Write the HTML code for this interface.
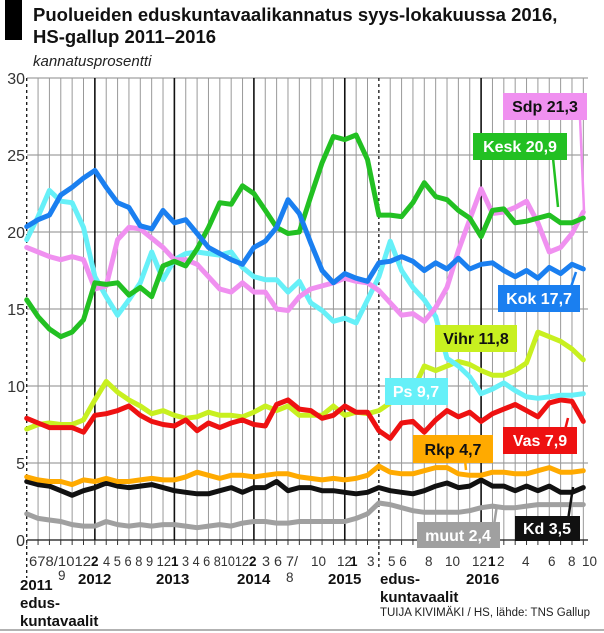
<!DOCTYPE html>
<html><head><meta charset="utf-8">
<style>
html,body{margin:0;padding:0;background:#fff;}
svg{display:block;font-family:"Liberation Sans",sans-serif;}
</style></head>
<body>
<svg id="s" width="604" height="633" viewBox="0 0 604 633" xmlns="http://www.w3.org/2000/svg">
<rect x="0" y="0" width="604" height="633" fill="#fff"/>
<rect x="5" y="0" width="17" height="40" fill="#000"/>
<text x="33" y="21" font-size="18.5" font-weight="bold" fill="#111">Puolueiden eduskuntavaalikannatus syys-lokakuussa 2016,</text>
<text x="33" y="43" font-size="18.5" font-weight="bold" fill="#111">HS-gallup 2011–2016</text>
<text x="33" y="66" font-size="15" font-style="italic" fill="#222">kannatusprosentti</text>
<g id="grid"></g>
<g font-size="16" fill="#333" text-anchor="end">
<text x="25" y="84">30</text><text x="25" y="161">25</text><text x="25" y="238">20</text>
<text x="25" y="315">15</text><text x="25" y="392">10</text><text x="25" y="469">5</text><text x="25" y="546">0</text>
</g>
<g id="lines" fill="none" stroke-width="5" stroke-linejoin="round" stroke-linecap="round"></g>
<g font-size="16" font-weight="bold">
<line x1="580" y1="118" x2="584" y2="210" stroke="#f090f0" stroke-width="2.5"/>
<rect x="503" y="93" width="84" height="27" fill="#f090f0"/>
<text x="545" y="112" text-anchor="middle" fill="#111">Sdp 21,3</text>
<line x1="553" y1="158" x2="558" y2="207" stroke="#22c022" stroke-width="2.5"/>
<rect x="473" y="133" width="94" height="27" fill="#22c022"/>
<text x="520" y="152" text-anchor="middle" fill="#fff">Kesk 20,9</text>
<line x1="570" y1="290" x2="576" y2="272" stroke="#1a7ff0" stroke-width="2.5"/>
<rect x="498" y="285" width="82" height="27" fill="#1a7ff0"/>
<text x="539" y="304" text-anchor="middle" fill="#fff">Kok 17,7</text>
<rect x="435" y="325" width="82" height="27" fill="#c8f020"/>
<text x="476" y="344" text-anchor="middle" fill="#111">Vihr 11,8</text>
<rect x="385" y="378" width="63" height="27" fill="#66f0f8"/>
<text x="416" y="397" text-anchor="middle" fill="#fff">Ps 9,7</text>
<line x1="565" y1="430" x2="568" y2="418" stroke="#ee1111" stroke-width="2.5"/>
<rect x="503" y="427" width="74" height="27" fill="#ee1111"/>
<text x="540" y="446" text-anchor="middle" fill="#fff">Vas 7,9</text>
<line x1="465" y1="460" x2="466" y2="470" stroke="#ffaa00" stroke-width="2.5"/>
<rect x="413" y="435" width="80" height="28" fill="#ffaa00"/>
<text x="453" y="455" text-anchor="middle" fill="#111">Rkp 4,7</text>
<line x1="568" y1="520" x2="573" y2="487" stroke="#111" stroke-width="2.5"/>
<rect x="515" y="516" width="65" height="25" fill="#111"/>
<text x="547" y="534" text-anchor="middle" fill="#fff">Kd 3,5</text>
<line x1="494" y1="525" x2="497" y2="505" stroke="#a0a0a0" stroke-width="2.5"/>
<rect x="417" y="522" width="83" height="26" fill="#a0a0a0"/>
<text x="458" y="541" text-anchor="middle" fill="#fff">muut 2,4</text>
</g>
<g font-size="13.5" fill="#333">
<text x="29" y="566" textLength="62" lengthAdjust="spacingAndGlyphs">678/1012</text>
<text x="91" y="566" font-weight="bold" fill="#111">2</text>
<text x="103" y="566" textLength="68" lengthAdjust="spacingAndGlyphs">4 5 6 8 9 12</text>
<text x="171" y="566" font-weight="bold" fill="#111">1</text>
<text x="182" y="566" textLength="67" lengthAdjust="spacingAndGlyphs">3 4 6 81012</text>
<text x="249" y="566" font-weight="bold" fill="#111">2</text>
<text x="262" y="566" textLength="36" lengthAdjust="spacingAndGlyphs">3 6 7/</text>
<text x="58" y="580">9</text>
<text x="286" y="582">8</text>
<text x="311" y="566">10</text>
<text x="337" y="566">12</text>
<text x="350" y="566" font-weight="bold" fill="#111">1</text>
<text x="367" y="566">3</text>
<text x="388" y="566">5 6</text>
<text x="425" y="566">8</text>
<text x="445" y="566">10</text>
<text x="472" y="566">12</text>
<text x="488" y="566" font-weight="bold" fill="#111">1</text>
<text x="497" y="566">2</text>
<text x="522" y="566">4</text>
<text x="548" y="566">6</text>
<text x="568" y="566">8</text>
<text x="582" y="566">10</text>
</g>
<g font-size="15" font-weight="bold" fill="#111">
<text x="20" y="590">2011</text>
<text x="20" y="608">edus-</text>
<text x="20" y="626">kuntavaalit</text>
<text x="78" y="584">2012</text>
<text x="156" y="584">2013</text>
<text x="237" y="584">2014</text>
<text x="328" y="584">2015</text>
<text x="380" y="584">edus-</text>
<text x="380" y="602">kuntavaalit</text>
<text x="466" y="584">2016</text>
</g>
<text x="590" y="616" font-size="11.5" text-anchor="end" fill="#222">TUIJA KIVIMÄKI / HS, lähde: TNS Gallup</text>
<line x1="0" y1="630" x2="604" y2="630" stroke="#999" stroke-width="1.5"/>
</svg>
<script>
var NS="http://www.w3.org/2000/svg";
function el(p,t,a){var e=document.createElementNS(NS,t);for(var k in a)e.setAttribute(k,a[k]);p.appendChild(e);return e;}
var X0=26.7,DX=11.36;
function X(i){return X0+DX*i;}
function Y(v){return 540-15.4*v;}
var g=document.getElementById('grid');
for(var v=5;v<=30;v+=5) el(g,'line',{x1:27,x2:588,y1:Y(v),y2:Y(v),stroke:'#888','stroke-width':1});
var black=[6,13,20,28,40];
for(var i=1;i<=49;i++){
  if(i==31) continue;
  var b=black.indexOf(i)>=0;
  el(g,'line',{x1:X(i),x2:X(i),y1:Y(30),y2:540,stroke:b?'#111':'#999','stroke-width':b?1.6:1});
}
el(g,'line',{x1:X(0),x2:X(0),y1:Y(30),y2:578,stroke:'#111','stroke-width':1.3,'stroke-dasharray':'3,3'});
el(g,'line',{x1:X(31),x2:X(31),y1:Y(30),y2:568,stroke:'#111','stroke-width':1.3,'stroke-dasharray':'3,3'});
el(g,'line',{x1:27,x2:588,y1:540,y2:540,stroke:'#111','stroke-width':1.3});
for(var i=0;i<=49;i++){ el(g,'line',{x1:X(i),x2:X(i),y1:540,y2:545,stroke:'#333','stroke-width':1}); }
var S=[
['#a0a0a0',[1.7,1.4,1.3,1.2,1.0,0.9,0.9,1.2,1.0,0.9,1.0,0.9,1.0,1.0,0.9,0.8,0.9,1.0,0.9,1.1,1.2,1.2,1.1,1.1,1.2,1.2,1.2,1.2,1.2,1.4,1.7,2.4,2.3,2.1,1.9,1.8,1.8,1.8,1.8,1.9,2.1,2.2,2.1,2.1,2.2,2.3,2.3,2.3,2.3,2.3]],
['#111',[3.8,3.6,3.5,3.2,2.9,3.2,3.4,3.7,3.5,3.4,3.5,3.6,3.4,3.2,3.1,3.0,3.0,3.2,3.4,3.1,3.4,3.4,3.8,3.2,3.4,3.4,3.2,3.2,3.1,3.0,3.1,3.4,3.2,3.1,3.0,3.2,3.5,3.7,3.4,3.5,3.9,3.5,3.5,3.2,3.5,3.2,3.5,3.1,3.1,3.4]],
['#ffaa00',[4.1,3.9,3.8,3.8,3.6,3.9,3.8,4.0,3.8,3.8,3.9,4.0,3.9,3.9,4.1,4.4,4.2,4.0,4.2,4.2,4.1,4.2,4.3,4.3,4.1,4.0,3.9,4.0,3.9,4.0,4.2,4.8,4.4,4.3,4.3,4.5,4.7,4.7,4.3,4.2,4.2,4.4,4.4,4.3,4.3,4.5,4.7,4.4,4.4,4.5]],
['#c8f020',[7.2,7.5,7.6,7.5,7.5,7.8,9.1,10.3,9.6,9.1,8.7,8.2,8.4,8.1,7.9,8.0,8.3,8.1,8.1,8.0,8.3,8.7,8.4,8.7,8.1,8.1,8.1,8.7,8.1,8.3,8.2,8.4,8.9,9.1,9.7,11.3,11.0,11.3,11.6,11.4,11.0,10.7,10.7,11.0,11.5,13.5,13.2,12.9,12.4,11.7]],
['#ee1111',[7.9,7.6,7.3,7.3,7.3,7.0,8.1,8.2,8.4,8.7,8.1,7.7,7.5,7.4,7.8,7.1,7.6,7.3,7.6,7.8,7.5,7.4,8.8,9.1,8.5,8.4,7.9,8.1,8.7,8.3,8.3,7.1,6.6,7.6,7.7,7.0,7.8,8.4,8.0,8.3,7.7,8.2,8.5,8.8,8.4,8.0,8.9,9.1,9.0,7.7]],
['#66f0f8',[19.5,21.0,22.7,22.0,21.9,20.3,17.1,15.8,14.6,15.6,16.7,18.7,16.9,18.2,18.6,18.7,18.6,18.5,18.7,17.7,17.1,16.9,16.9,16.1,16.8,15.4,14.9,14.2,14.4,14.1,15.6,17.1,19.4,17.5,16.4,15.6,14.5,11.8,11.3,10.6,9.5,9.8,10.2,9.7,9.3,9.2,9.3,9.4,9.4,9.5]],
['#f090f0',[19.0,18.7,18.4,18.2,18.4,18.2,16.3,16.5,19.5,20.3,20.2,19.6,19.0,18.2,18.2,17.9,17.1,16.3,16.1,16.7,16.1,16.1,15.0,14.9,15.8,16.3,16.5,16.7,17.0,16.8,16.7,16.2,15.4,14.6,14.7,14.2,15.1,16.4,18.8,20.8,22.8,21.2,21.3,21.6,22.0,20.6,18.7,19.0,19.9,21.3]],
['#22c022',[15.6,14.5,13.7,13.2,13.5,14.3,16.7,16.6,16.7,15.9,16.4,15.8,17.8,18.1,17.8,18.9,20.3,21.9,21.8,23.0,22.5,21.4,20.3,19.9,20.0,22.3,24.5,26.2,26.0,26.3,24.7,21.1,21.1,21.0,21.9,23.2,22.3,22.1,21.4,20.9,19.7,21.4,21.5,20.6,20.7,20.9,21.1,20.6,20.6,20.9]],
['#1a7ff0',[20.35,20.8,21.1,22.4,22.9,23.5,24.0,22.9,21.9,21.6,20.4,20.2,21.4,20.6,20.8,19.9,19.0,18.6,18.2,17.9,19.0,19.4,20.3,22.1,21.2,19.3,17.5,16.7,17.3,17.0,16.8,18.0,18.1,18.4,18.1,17.5,18.0,17.6,18.3,17.6,17.9,18.0,17.5,17.1,17.5,17.0,17.7,17.3,17.9,17.6]]
];
var L=document.getElementById('lines');
S.forEach(function(s){
  var p=s[1].map(function(v,i){return X(i).toFixed(1)+','+Y(v).toFixed(1);}).join(' ');
  el(L,'polyline',{points:p,stroke:s[0]});
});
</script>
</body></html>
